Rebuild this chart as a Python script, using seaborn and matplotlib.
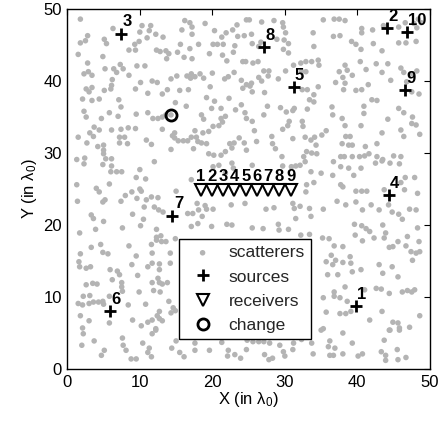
import matplotlib
matplotlib.use('Agg')
import matplotlib.pyplot as plt
import seaborn as sns
import pandas as pd

# ---------------- data ----------------
scatter_pts = [
    # upper-left region
    (1.8,48.6),(6.3,47.3),(10.3,47.7),(11.5,47.7),(11.3,47.0),(10.0,46.8),(12.2,46.5),(2.8,46.3),
    (2.5,45.6),(1.8,45.3),(5.1,45.8),(5.4,45.2),(9.9,45.5),(9.3,45.1),(8.5,44.3),(9.4,44.3),
    (11.0,46.0),(13.2,46.1),(16.2,48.4),(16.9,48.1),(17.2,47.5),(15.8,47.1),(17.2,46.5),(19.0,48.0),
    (20.3,47.0),(21.9,46.7),(22.8,47.1),(23.4,47.8),(24.7,48.5),(24.4,46.3),(23.5,46.2),(21.3,46.1),
    (18.1,45.1),(20.1,45.1),(20.7,45.1),(21.5,45.1),(23.1,44.9),(15.6,45.1),(16.9,44.5),(12.3,44.3),
    (12.8,44.1),(13.6,44.2),(14.0,43.8),(13.7,43.1),(15.2,44.0),(16.1,43.3),(17.2,43.1),(19.6,43.8),
    (21.4,43.6),(22.0,42.8),(22.9,44.0),(24.2,42.7),(4.9,43.4),(1.5,43.7),(2.8,42.5),(5.2,41.7),
    (6.4,41.7),(7.3,42.3),(7.7,41.7),(9.6,42.1),(10.7,42.1),(8.5,40.8),(2.3,41.0),(2.9,41.3),
    (3.4,40.8),(6.2,40.2),(6.8,41.2),(10.1,39.8),(9.4,38.9),(11.7,40.0),(12.4,39.8),(11.1,38.3),
    (14.3,40.3),(15.1,40.7),(13.8,38.8),(13.1,38.2),(15.5,38.7),(16.7,38.8),(16.5,40.7),(17.0,40.4),
    (17.1,41.0),(17.6,40.6),(18.3,41.0),(18.8,40.4),(19.7,39.2),(20.0,41.1),(21.7,40.3),(22.2,40.6),
    (23.0,41.2),(24.0,40.1),(24.2,39.0),(24.7,39.5),(2.6,38.9),(3.4,39.1),(3.0,38.5),(5.1,38.7),
    (6.0,38.9),(6.1,39.4),(2.1,37.5),(3.4,37.3),(4.4,37.5),(7.1,37.4),(7.4,36.4),(2.3,35.8),
    (2.6,35.0),(4.7,34.8),(5.8,35.6),(7.0,35.1),(9.5,35.4),(11.1,35.6),(11.8,34.8),(12.5,34.8),
    (13.1,35.0),(13.6,35.3),(14.3,35.3),(14.9,37.0),(16.4,36.5),(19.2,37.7),(20.3,37.2),(22.3,37.6),
    (24.0,36.7),(23.2,36.0),(21.2,36.2),(19.9,36.2),(18.5,35.3),(18.8,34.7),(24.5,35.6),(24.7,34.8),
    (21.2,34.8),(21.8,35.1),(21.4,34.3),(20.9,33.8),(20.1,33.7),(19.5,33.0),(18.7,32.8),(17.6,33.1),
    (17.8,32.2),(17.1,32.2),(16.6,31.7),(18.0,31.6),(18.5,31.4),(19.2,31.3),(16.0,31.7),(15.3,31.7),
    (14.8,32.8),(14.8,32.1),(14.5,32.4),(13.1,33.3),(9.4,33.4),(8.4,33.5),(7.4,33.3),(6.1,33.2),
    (3.7,33.6),(3.1,32.8),(3.6,32.3),(4.4,33.2),(1.5,32.2),(2.7,31.4),(7.2,32.2),(7.9,32.2),
    (7.2,31.4),(8.3,31.3),(4.2,30.9),(5.0,31.1),(5.0,30.4),(5.0,29.9),(5.3,29.2),(6.1,29.2),
    (10.9,31.8),(11.6,31.2),(14.3,30.5),(17.4,30.6),(19.5,29.9),(20.2,29.7),(21.2,29.7),(21.8,30.2),
    (22.7,30.7),(23.0,31.4),(22.4,31.3),(23.7,32.1),(24.4,31.4),(24.7,30.4),(1.3,29.1),(2.4,29.3),
    (2.3,28.5),(4.9,28.4),(6.1,28.2),(6.8,27.4),(7.5,27.4),(6.0,27.4),(12.0,28.8),(10.0,27.7),
    (9.5,26.6),(10.8,26.4),(20.1,28.1),(20.9,28.3),(22.7,28.6),(21.8,27.2),(22.9,27.9),(1.3,25.6),
    (4.0,25.1),(5.8,25.7),(17.1,26.3),(32.1,28.3),(33.0,25.6),
    # lower-left region
    (1.4,23.3),(4.4,24.6),(8.9,24.6),(10.0,25.0),(10.2,24.7),(7.4,23.3),(8.0,24.1),(9.6,23.7),
    (10.9,23.5),(11.6,23.9),(12.5,23.8),(4.9,23.2),(5.2,23.5),(15.0,24.7),(10.6,22.5),(12.0,22.5),
    (12.6,22.1),(13.2,21.8),(9.0,21.5),(3.3,21.4),(3.6,20.9),(5.0,20.5),(3.9,19.4),(1.7,18.9),
    (7.6,19.6),(10.1,19.9),(10.5,20.8),(12.3,19.4),(12.3,18.3),(12.9,18.5),(12.3,17.9),(13.0,17.7),
    (13.6,17.7),(11.6,17.3),(14.9,18.1),(16.6,21.6),(17.3,21.6),(18.1,22.1),(19.0,22.7),(19.2,22.2),
    (20.1,22.2),(17.9,23.0),(18.6,21.2),(17.1,19.8),(18.0,20.2),(19.9,19.8),(22.0,20.1),(22.7,20.0),
    (22.6,22.8),(24.5,23.0),(3.3,16.9),(4.6,17.3),(4.9,16.2),(5.6,16.0),(1.8,16.0),(1.6,14.9),
    (1.7,14.2),(2.6,14.0),(3.2,14.2),(8.5,17.1),(9.5,15.7),(8.9,14.5),(11.1,14.2),(11.7,14.7),
    (12.7,14.6),(12.7,13.8),(14.2,16.1),(14.2,14.7),(11.7,16.1),(5.9,13.8),(6.9,13.6),(7.2,13.1),
    (6.2,12.4),(7.5,12.0),(7.5,11.4),(9.7,13.0),(2.6,11.7),(3.5,11.9),(4.1,11.8),(2.2,10.1),
    (3.1,10.2),(1.5,9.1),(2.1,8.9),(3.0,9.1),(3.6,9.3),(4.3,9.3),(4.9,9.4),(5.0,9.0),
    (5.8,10.1),(8.4,8.9),(7.6,10.8),(9.9,10.7),(10.8,9.0),(11.9,10.9),(12.8,10.7),(11.7,12.0),
    (12.7,12.0),(13.1,11.8),(13.8,12.0),(12.5,12.6),(14.0,9.4),(14.6,8.5),(14.9,8.1),(1.8,7.4),
    (3.0,6.7),(5.8,6.4),(2.1,5.7),(9.0,6.8),(10.2,6.0),(11.1,6.5),(11.7,6.8),(12.7,8.0),
    (12.4,7.4),(12.7,7.0),(13.1,6.7),(12.2,5.6),(14.3,7.8),
    # bottom strip
    (2.2,4.9),(2.0,3.3),(3.7,3.9),(5.1,2.6),(4.7,1.9),(7.6,4.3),(7.7,3.3),(8.1,2.6),
    (8.8,1.4),(9.5,1.4),(10.4,3.6),(11.3,2.9),(11.1,2.3),(11.6,1.7),(11.7,4.9),(12.2,5.4),
    (14.4,2.9),(15.0,3.9),(15.5,2.3),(16.1,1.7),(17.6,3.6),(17.6,2.6),(19.6,2.6),(21.3,3.7),
    (22.2,2.6),(22.1,1.8),(23.1,2.0),(23.9,1.5),(24.7,2.7),(24.8,4.0),(25.6,3.8),(26.4,3.8),
    (27.1,3.8),(27.9,3.6),(27.2,2.0),(27.8,1.3),(28.3,1.5),(29.3,3.3),(29.8,2.4),(30.0,1.8),
    (31.2,3.6),(31.1,2.7),(32.3,4.1),(33.7,3.6),(33.9,2.1),(35.0,5.4),(36.2,3.9),(36.0,3.1),
    (36.2,1.9),(36.7,1.9),(36.9,2.9),(38.0,5.0),(38.0,2.1),(39.3,3.6),(40.1,1.8),(40.7,2.1),
    (43.7,4.0),(43.3,2.4),(43.9,1.9),(43.9,1.2),(44.4,5.4),(45.5,2.7),(45.6,1.3),(46.7,1.6),
    (45.8,5.4),
    # upper-right region
    (25.1,48.5),(26.8,48.2),(28.5,48.4),(29.7,48.1),(29.8,47.5),(30.1,46.7),(25.4,46.5),(33.9,46.7),
    (35.3,48.5),(36.8,48.6),(37.5,48.6),(38.3,48.4),(36.7,46.2),(37.6,46.3),(40.6,47.3),(40.6,46.7),
    (42.1,47.1),(43.6,47.7),(45.7,47.5),(46.6,48.1),(47.8,48.0),(48.4,48.6),(48.8,48.1),(48.2,47.4),
    (45.7,45.3),(46.7,45.3),(48.1,45.5),(25.5,45.2),(26.7,45.4),(26.4,44.8),(28.9,45.8),(29.9,45.7),
    (30.5,45.2),(29.8,44.4),(30.5,43.9),(34.0,44.8),(39.2,45.5),(39.8,45.1),(40.5,44.4),(42.2,45.2),
    (43.4,44.2),(24.6,42.7),(25.6,42.5),(26.3,42.7),(27.1,41.4),(27.8,41.4),(27.7,40.7),(26.4,40.5),
    (26.8,40.0),(25.4,39.7),(29.1,40.3),(30.1,41.4),(31.2,42.2),(32.2,42.5),(32.9,42.7),(33.7,42.7),
    (34.6,42.9),(32.3,41.3),(32.9,41.3),(34.7,42.2),(38.3,42.2),(38.6,41.5),(37.5,41.3),(38.0,40.5),
    (38.3,39.7),(38.1,38.8),(37.0,39.8),(39.3,40.8),(40.4,42.7),(41.2,41.6),(39.8,38.7),(40.6,38.8),
    (41.5,39.5),(42.6,42.4),(43.4,41.2),(44.2,42.4),(44.6,40.1),(46.0,41.8),(46.4,41.2),(47.6,41.0),
    (48.2,41.4),(46.8,39.9),(47.5,38.5),(48.5,38.2),(34.6,39.2),(34.0,38.1),(33.4,37.4),(34.0,37.1),
    (33.1,36.1),(32.4,38.8),(33.1,38.8),(27.2,38.4),(25.2,39.3),(25.5,38.5),(27.6,36.5),(27.1,35.3),
    (29.4,36.3),(31.1,35.9),(30.2,35.7),(31.3,36.2),(25.5,34.4),(25.8,33.1),(26.1,31.6),(28.2,32.3),
    (28.3,31.3),(28.7,30.6),(29.7,33.3),(30.4,33.8),(30.6,34.4),(31.1,32.0),(32.4,34.4),(32.5,33.7),
    (32.8,32.2),(33.6,31.8),(34.1,32.2),(34.3,31.1),(33.0,30.2),(33.7,30.0),(34.4,29.9),(32.6,29.5),
    (32.8,28.8),(29.6,29.5),(25.5,28.3),(29.7,28.2),(30.9,28.1),(31.5,28.2),(33.6,27.4),(35.0,27.2),
    (34.0,25.9),(35.7,33.1),(35.1,32.5),(36.5,36.4),(36.6,35.3),(37.9,34.8),(38.3,33.8),(38.4,32.3),
    (39.0,32.3),(37.9,31.3),(38.8,31.1),(39.3,31.1),(40.5,33.8),(40.9,35.5),(40.9,36.5),(42.0,37.4),
    (42.7,37.3),(41.1,30.9),(42.7,31.3),(43.4,32.8),(44.2,34.7),(45.7,36.2),(46.4,35.6),(47.6,35.0),
    (47.5,34.1),(48.1,33.9),(46.0,33.2),(46.4,32.3),(48.6,32.6),(37.7,29.5),(38.2,29.5),(36.7,28.8),
    (37.7,28.1),(39.3,29.5),(40.3,29.5),(41.0,29.6),(41.6,29.9),(42.7,29.5),(43.4,28.9),(42.5,28.6),
    (43.5,29.1),(44.5,28.6),(45.8,28.5),(45.0,29.6),(46.0,29.5),(40.5,27.9),(39.5,26.9),(38.8,27.9),
    (37.7,25.6),(36.6,26.9),(47.9,26.6),(46.0,25.9),(46.6,26.6),
    # lower-right region
    (32.9,24.6),(38.0,25.3),(39.8,24.7),(40.6,24.7),(41.3,24.7),(43.7,24.9),(46.5,24.9),(48.3,24.4),
    (27.4,22.2),(28.5,22.4),(31.1,23.0),(31.3,22.3),(32.1,22.6),(33.4,22.3),(35.3,22.2),(31.5,20.9),
    (33.6,21.2),(37.2,23.3),(38.4,22.8),(39.8,23.2),(40.7,22.1),(41.9,22.8),(43.0,22.1),(44.3,22.8),
    (44.8,21.8),(45.7,21.5),(46.2,20.8),(47.2,22.2),(48.1,22.1),(25.5,19.6),(27.0,19.5),(29.1,20.1),
    (29.2,19.3),(30.5,19.4),(32.2,18.6),(33.4,18.7),(35.2,18.2),(36.1,18.1),(36.8,17.1),(38.0,17.0),
    (36.4,15.8),(37.0,15.1),(36.6,14.5),(38.0,14.8),(39.0,15.6),(39.1,14.7),(35.7,14.9),(39.6,20.1),
    (40.6,19.9),(41.2,19.5),(41.7,19.1),(42.3,18.2),(39.7,18.6),(40.7,17.8),(43.5,20.0),(43.9,18.9),
    (43.7,18.2),(44.4,16.9),(44.9,17.0),(46.7,17.1),(47.4,16.3),(48.1,16.1),(48.6,16.3),(47.6,15.1),
    (45.6,17.7),(46.9,18.4),(48.3,19.6),(48.5,17.7),(43.0,14.5),(43.5,13.3),(44.8,14.2),(45.6,12.8),
    (39.3,13.5),(40.5,13.8),(35.9,13.1),(37.3,13.1),(42.6,11.2),(43.3,11.1),(44.4,10.5),(46.2,10.7),
    (46.9,10.9),(47.5,10.7),(47.9,11.0),(36.8,10.7),(36.8,10.1),(37.6,9.9),(35.3,9.9),(38.3,11.4),
    (38.6,9.4),(39.1,8.0),(38.4,7.7),(35.7,7.9),(37.6,7.7),(41.0,11.0),(41.7,6.8),(43.4,8.0),
    (44.9,6.5),(45.6,6.4),(45.8,5.7),(47.2,5.8),(44.5,5.4),(48.6,7.4),(35.3,5.6),
]
scatter_x = [p[0] for p in scatter_pts]
scatter_y = [p[1] for p in scatter_pts]

source_labels = ['1', '2', '3', '4', '5', '6', '7', '8', '9', '10']
source_x = [39.8, 44.1, 7.4, 44.3, 31.2, 5.9, 14.5, 27.1, 46.5, 46.8]
source_y = [8.7, 47.3, 46.6, 24.2, 39.2, 8.0, 21.3, 44.7, 38.8, 46.8]

receiver_labels = ['1', '2', '3', '4', '5', '6', '7', '8', '9']
receiver_x = [18.4, 19.95, 21.5, 23.05, 24.6, 26.15, 27.7, 29.25, 30.8]
receiver_y = [24.9, 24.9, 24.9, 24.9, 24.9, 24.9, 24.9, 24.9, 24.9]

change_x = [14.3]
change_y = [35.3]

legend_labels = ['scatterers', 'sources', 'receivers', 'change']
axis_ticks = [0, 10, 20, 30, 40, 50]

# ---------------- styling ----------------
sns.set_theme(style='white')
plt.rcParams['font.family'] = ['Liberation Sans', 'DejaVu Sans']
plt.rcParams['mathtext.fontset'] = 'custom'
plt.rcParams['mathtext.rm'] = 'Liberation Sans'
plt.rcParams['mathtext.it'] = 'Liberation Sans:italic'

fig = plt.figure(figsize=(4.4, 4.21), dpi=100)
ax = fig.add_axes([0.153, 0.1235, 0.824, 0.855])

df = pd.DataFrame({'x': scatter_x, 'y': scatter_y})
sns.scatterplot(data=df, x='x', y='y', ax=ax, color='#b4b4b4', s=16,
                edgecolor='none', linewidth=0, label=legend_labels[0], zorder=1)

ax.plot(source_x, source_y, ls='none', marker='+', color='black', ms=8, mew=2,
        label=legend_labels[1], zorder=3)
for lab, x, y in zip(source_labels, source_x, source_y):
    ax.annotate(lab, (x, y), xytext=(1, 3), textcoords='offset points',
                ha='left', va='bottom', fontsize=12, fontweight='bold', color='black')

ax.plot(receiver_x, receiver_y, ls='none', marker='v', mfc='white', mec='black', ms=9,
        mew=1.5, label=legend_labels[2], zorder=4)
for lab, x, y in zip(receiver_labels, receiver_x, receiver_y):
    ax.annotate(lab, (x, y), xytext=(0, 4), textcoords='offset points',
                ha='center', va='bottom', fontsize=12, fontweight='bold', color='black')

ax.plot(change_x, change_y, ls='none', marker='o', mfc='none', mec='black', ms=8,
        mew=2, label=legend_labels[3], zorder=4)

ax.set_xlim(0, 50)
ax.set_ylim(0, 50)
ax.set_xticks(axis_ticks)
ax.set_yticks(axis_ticks)
ax.set_xlabel('X (in λ$_0$)', fontsize=12, color='black', labelpad=0)
ax.set_ylabel('Y (in λ$_0$)', fontsize=12, color='black', labelpad=3)
ax.tick_params(direction='in', top=True, right=True, length=4, width=0.8,
               labelsize=12, colors='black')
ax.tick_params(axis='x', pad=4)
ax.tick_params(axis='y', pad=4)
for sp in ax.spines.values():
    sp.set_color('black')
    sp.set_linewidth(1.0)

leg = ax.legend(loc='lower left', bbox_to_anchor=(0.308, 0.083), borderaxespad=0,
                frameon=True, fancybox=False, framealpha=1, edgecolor='black',
                fontsize=12.5, handlelength=2.0, handletextpad=0.5, labelspacing=0.52,
                borderpad=0.36, markerscale=1.0)
leg.get_frame().set_linewidth(1.0)

fig.savefig('out.png', dpi=100)
